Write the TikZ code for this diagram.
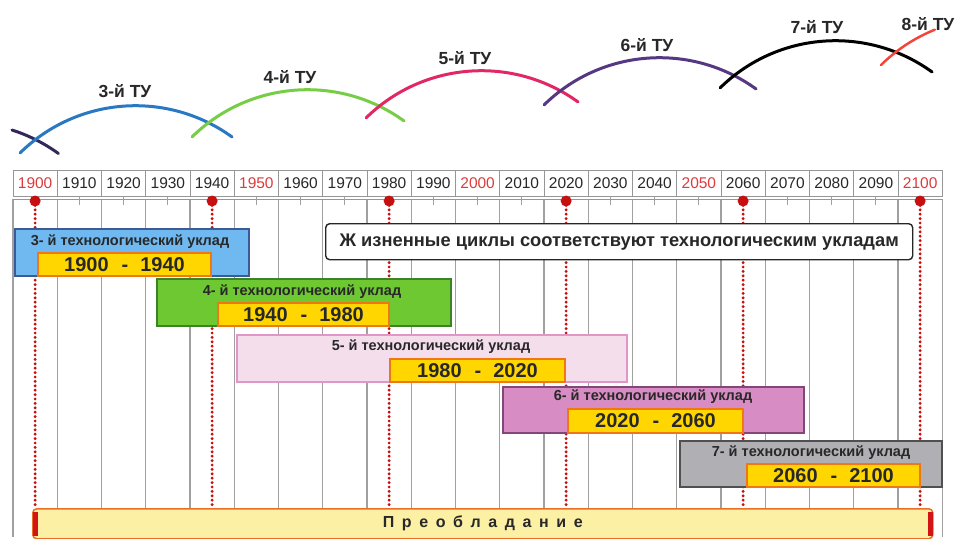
\documentclass[tikz,border=0pt]{standalone}
\usepackage{fontspec}
\setmainfont{Liberation Sans}
\newcommand\gapx{\hspace{7.6pt}}
\definecolor{hdrline}{RGB}{150,150,150}
\definecolor{gridc}{RGB}{160,160,160}
\definecolor{yrred}{RGB}{220,60,60}
\definecolor{dotred}{RGB}{200,15,15}
\definecolor{cthree}{RGB}{112,184,240}
\definecolor{cthreeb}{RGB}{60,90,150}
\definecolor{cfour}{RGB}{110,200,50}
\definecolor{cfourb}{RGB}{60,130,40}
\definecolor{cfive}{RGB}{244,222,236}
\definecolor{cfiveb}{RGB}{225,150,200}
\definecolor{csix}{RGB}{216,140,196}
\definecolor{csixb}{RGB}{130,70,120}
\definecolor{cseven}{RGB}{176,176,180}
\definecolor{csevenb}{RGB}{80,80,80}
\definecolor{yfill}{RGB}{255,214,0}
\definecolor{yborder}{RGB}{240,120,20}
\definecolor{barfill}{RGB}{252,240,165}
\definecolor{barborder}{RGB}{235,110,40}
\definecolor{barend}{RGB}{210,20,20}
\definecolor{arcdark}{RGB}{50,40,90}
\definecolor{arcblue}{RGB}{40,120,195}
\definecolor{arcgreen}{RGB}{120,205,70}
\definecolor{arccrim}{RGB}{225,40,100}
\definecolor{arcpurp}{RGB}{85,55,130}
\definecolor{arcred}{RGB}{240,70,60}
\definecolor{txt}{RGB}{40,40,40}
\tikzset{
  hdrcell/.style={draw=hdrline, line width=0.8pt, minimum width=44.25pt, minimum height=26pt, inner sep=0pt, font=\fontsize{15.5}{17}\selectfont},
  gridline/.style={draw=gridc, line width=1.1pt},
  reddot/.style={circle, fill=dotred, minimum size=11pt, inner sep=0pt},
  reddots/.style={draw=dotred, line width=3.2pt, dash pattern=on 0pt off 4.4pt, line cap=round},
  ubox/.style={anchor=north west, inner sep=0pt, outer sep=0pt, line width=1.3pt},
  ulabel/.style={font=\bfseries\fontsize{14.5}{16}\selectfont, text=txt, inner sep=0pt},
  ybox/.style={anchor=north west, fill=yfill, draw=yborder, line width=1.3pt, inner sep=0pt, outer sep=0pt, font=\bfseries\fontsize{20}{22}\selectfont, text=txt},
  tyarc/.style={line width=3pt, line cap=round},
  arclabel/.style={font=\bfseries\fontsize{17.5}{19}\selectfont, text=txt, inner sep=0pt}
}
\begin{document}
\begin{tikzpicture}[x=1pt,y=-1pt]
\useasboundingbox (0,0) rectangle (960,538);
\fill[white] (0,0) rectangle (960,538);

% arcs
\draw[tyarc, arcdark] (-38.5,287.4) ++(-72.2:165.3) arc[start angle=-72.2, end angle=-54.1, radius=165.3];
\draw[tyarc, arcblue] (135.5,270.4) ++(-134.5:164.7) arc[start angle=-134.5, end angle=-54.1, radius=164.7];
\draw[tyarc, arcgreen] (307.5,254.4) ++(-134.5:164.7) arc[start angle=-134.5, end angle=-54.1, radius=164.7];
\draw[tyarc, arccrim] (481.5,235.4) ++(-134.5:164.7) arc[start angle=-134.5, end angle=-54.1, radius=164.7];
\draw[tyarc, arcpurp] (659.5,222.4) ++(-134.5:164.7) arc[start angle=-134.5, end angle=-54.1, radius=164.7];
\draw[tyarc, black] (835.5,205.4) ++(-134.5:164.7) arc[start angle=-134.5, end angle=-54.1, radius=164.7];
\draw[tyarc, arcred, line width=2.5pt] (996.5,182.4) ++(-134.5:164.7) arc[start angle=-134.5, end angle=-112, radius=164.7];

\node[arclabel] (l3) at (125,91) {3-й ТУ};
\node[arclabel] (l4) at (290,77) {4-й ТУ};
\node[arclabel] (l5) at (465,58) {5-й ТУ};
\node[arclabel] (l6) at (647,45) {6-й ТУ};
\node[arclabel] (l7) at (817,27) {7-й ТУ};
\node[arclabel] (l8) at (928,24) {8-й ТУ};

% grid
\foreach \k in {0,...,21} {
  \draw[gridline] ({13+44.25*\k},199) -- ({13+44.25*\k},537);
}
\draw[draw=hdrline, line width=1pt] (13,199) -- (942,199);

% header
\foreach \k in {0,...,20} {
  \pgfmathtruncatemacro\yr{1900+10*\k}
  \pgfmathtruncatemacro\isred{mod(\k,5)==0 ? 1 : 0}
  \ifnum\isred=1
    \node[hdrcell, text=yrred] (h\k) at ({35.125+44.25*\k},183) {\yr};
  \else
    \node[hdrcell, text=txt] (h\k) at ({35.125+44.25*\k},183) {\yr};
  \fi
  \draw[draw=gridc, line width=1pt] ({35.125+44.25*\k},197) -- ({35.125+44.25*\k},205);
}

% red dots and dotted lines
\foreach \j in {0,...,5} {
  \node[reddot] (d\j) at ({35.125+177*\j},201) {};
  \coordinate (e\j) at ({35.125+177*\j},508);
  \draw[reddots] (d\j.center) -- (e\j);
}

% callout
\node[anchor=north west, draw=black!85, fill=white, line width=1.4pt, rounded corners=4pt, minimum width=587pt, minimum height=36pt, inner sep=0pt, font=\bfseries\fontsize{18.3}{20}\selectfont, text=txt] (call) at (325,223) {Ж изненные циклы соответствуют технологическим укладам};

% boxes
\node[ubox, fill=cthree, draw=cthreeb, minimum width=234pt, minimum height=47pt] (b3) at (15,229) {};
\node[ulabel] (t3) at (130,242) {3- й технологический уклад};
\node[ybox, minimum width=173pt, minimum height=23pt] (y3) at (38,253) {1900\hspace{0.65em}-\hspace{0.6em}1940};

\node[ubox, fill=cfour, draw=cfourb, minimum width=294pt, minimum height=47pt] (b4) at (157,279) {};
\node[ulabel] (t4) at (302,292) {4- й технологический уклад};
\node[ybox, minimum width=171pt, minimum height=23pt] (y4) at (218,303) {1940\hspace{0.65em}-\hspace{0.6em}1980};

\node[ubox, fill=cfive, draw=cfiveb, minimum width=390pt, minimum height=47pt] (b5) at (237,335) {};
\node[ulabel] (t5) at (431,347) {5- й технологический уклад};
\node[ybox, minimum width=175pt, minimum height=23pt] (y5) at (390,359) {1980\hspace{0.65em}-\hspace{0.6em}2020};

\node[ubox, fill=csix, draw=csixb, minimum width=301pt, minimum height=46pt] (b6) at (503,387) {};
\node[ulabel] (t6) at (653,397) {6- й технологический уклад};
\node[ybox, minimum width=175pt, minimum height=24pt] (y6) at (568,409) {2020\hspace{0.65em}-\hspace{0.6em}2060};

\node[ubox, fill=cseven, draw=csevenb, minimum width=262pt, minimum height=46pt] (b7) at (680,441) {};
\node[ulabel] (t7) at (811,453) {7- й технологический уклад};
\node[ybox, minimum width=173pt, minimum height=23pt] (y7) at (747,464) {2060\hspace{0.65em}-\hspace{0.6em}2100};

% bottom bar
\node[anchor=north west, fill=barfill, draw=barborder, line width=1.5pt, rounded corners=4pt, minimum width=900pt, minimum height=30pt, inner sep=0pt, font=\bfseries\fontsize{16}{18}\selectfont, text=txt] (bar) at (32,508) {П\gapx р\gapx е\gapx о\gapx б\gapx л\gapx а\gapx д\gapx а\gapx н\gapx и\gapx е};
\draw[barend, line width=5pt] ([xshift=3.5pt,yshift=-4pt]bar.north west) -- ([xshift=3.5pt,yshift=4pt]bar.south west);
\draw[barend, line width=5pt] ([xshift=-3.5pt,yshift=-4pt]bar.north east) -- ([xshift=-3.5pt,yshift=4pt]bar.south east);
\end{tikzpicture}
\end{document}
